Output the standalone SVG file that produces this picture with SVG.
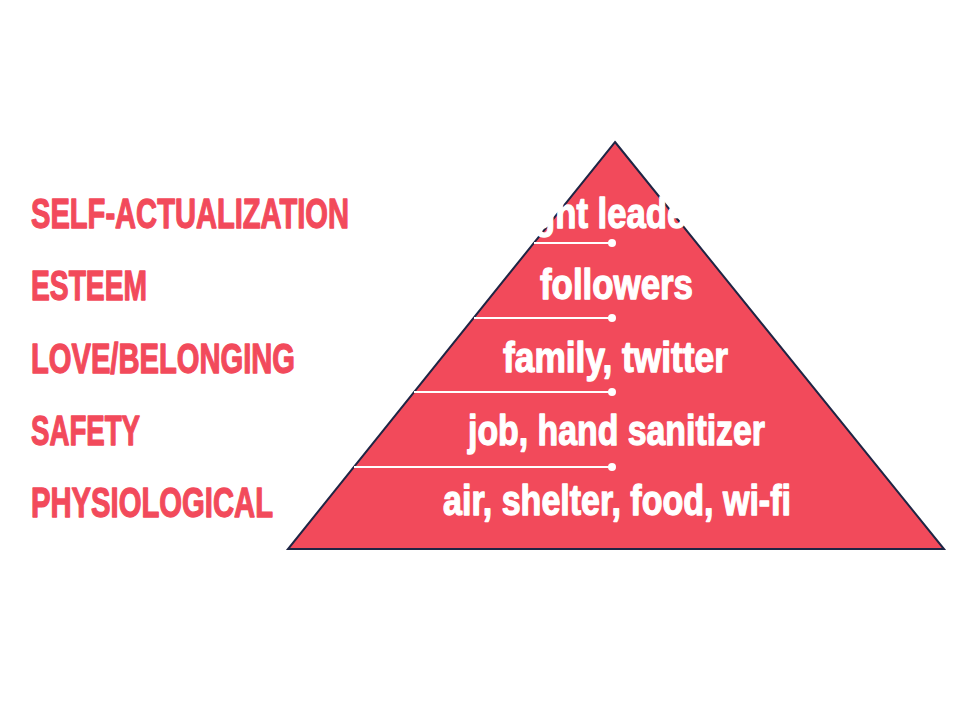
<svg xmlns="http://www.w3.org/2000/svg" width="960" height="720" viewBox="0 0 960 720">
<style>
.lab{font-family:"Liberation Sans",Arial,sans-serif;font-weight:bold;font-size:42px;fill:#F24A5B;stroke:#F24A5B;stroke-width:1.3;stroke-linejoin:round}
.in{font-family:"Liberation Sans",Arial,sans-serif;font-weight:bold;font-size:42px;fill:#FFFFFF;stroke:#FFFFFF;stroke-width:1.3;stroke-linejoin:round}
.sep{stroke:#FFFFFF;stroke-width:2;fill:none}
.dot{fill:#FFFFFF}
</style>
<rect width="960" height="720" fill="#FFFFFF"/>
<g id="pyramid">
<polygon points="615,142 944,549 288,549" fill="#F24A5B" stroke="#1F2544" stroke-width="2" stroke-linejoin="miter"/>
</g>
<g id="labels">
<text class="lab" x="31" y="228" textLength="318" lengthAdjust="spacingAndGlyphs">SELF-ACTUALIZATION</text>
<text class="lab" x="31" y="300" textLength="116" lengthAdjust="spacingAndGlyphs">ESTEEM</text>
<text class="lab" x="31" y="373" textLength="264" lengthAdjust="spacingAndGlyphs">LOVE/BELONGING</text>
<text class="lab" x="31" y="445" textLength="109" lengthAdjust="spacingAndGlyphs">SAFETY</text>
<text class="lab" x="31" y="517" textLength="242" lengthAdjust="spacingAndGlyphs">PHYSIOLOGICAL</text>
</g>
<g id="levels">
<text class="in" x="459" y="228" textLength="312" lengthAdjust="spacingAndGlyphs">thought leadership</text>
<text class="in" x="540" y="299" textLength="153" lengthAdjust="spacingAndGlyphs">followers</text>
<text class="in" x="503" y="372" textLength="225" lengthAdjust="spacingAndGlyphs">family, twitter</text>
<text class="in" x="468" y="445" textLength="297" lengthAdjust="spacingAndGlyphs">job, hand sanitizer</text>
<text class="in" x="443" y="515" textLength="348" lengthAdjust="spacingAndGlyphs">air, shelter, food, wi-fi</text>
</g>
<g id="connectors">
<line class="sep" x1="534" y1="243" x2="612" y2="243"/>
<circle class="dot" cx="612" cy="243" r="4"/>
<line class="sep" x1="474" y1="318" x2="612" y2="318"/>
<circle class="dot" cx="612" cy="318" r="4"/>
<line class="sep" x1="414" y1="392" x2="612" y2="392"/>
<circle class="dot" cx="612" cy="392" r="4"/>
<line class="sep" x1="354" y1="467" x2="612" y2="467"/>
<circle class="dot" cx="612" cy="467" r="4"/>
</g>
</svg>
